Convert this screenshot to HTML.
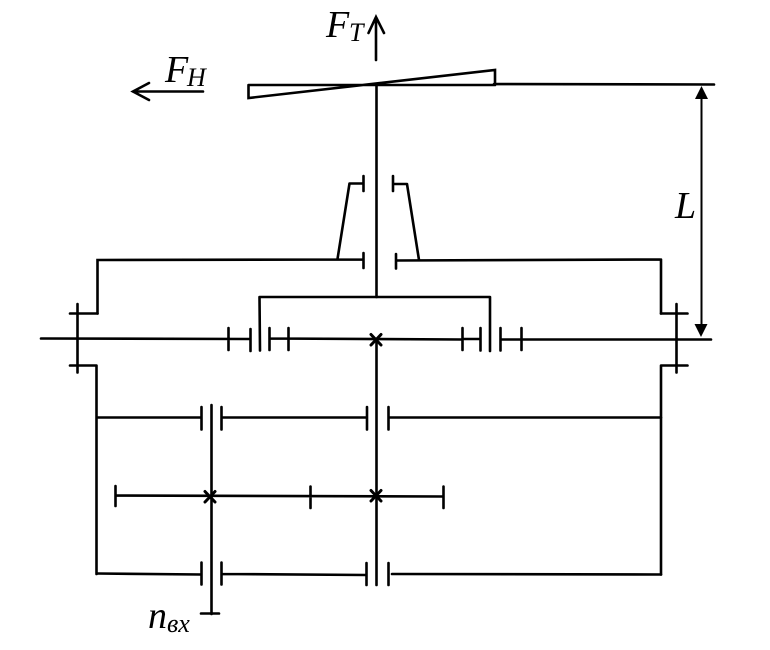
<!DOCTYPE html>
<html>
<head>
<meta charset="utf-8">
<style>
html,body{margin:0;padding:0;background:#fff;width:770px;height:650px;overflow:hidden}
svg{display:block}
text{font-family:"Liberation Serif","DejaVu Serif",serif;font-style:italic;fill:#000}
</style>
</head>
<body>
<svg width="770" height="650" viewBox="0 0 770 650" xmlns="http://www.w3.org/2000/svg">
<g fill="none" stroke="#000" stroke-width="2.6" stroke-linecap="round" stroke-linejoin="miter">
<!-- top blade -->
<path d="M248.500 85H494M248.500 85V98L495 70V85M494 84L714 84.500"/>
<!-- FT arrow -->
<path d="M376 60V17M368.500 33L376 17L384 33"/>
<!-- FH arrow -->
<path d="M203 91.500H133M149 83L133 91.500L149 100"/>
<!-- central shaft top -->
<path d="M376.500 85V297"/>
<!-- upper bearings -->
<path d="M363.500 176V191M349.500 183.500H363.500M349.500 183.500L337.500 259M393 176V191M393 184H407M407 184L419 260"/>
<!-- mid horizontal lines -->
<path d="M97.500 313.500V260L363 259.500M363.500 253V268M396 254V268.500M396 260.500L660 259.500M661 259.500V313.500"/>
<!-- carrier bridge -->
<path d="M259.500 297H490M259.500 297L260 350.500M490 297V351"/>
<!-- main horizontal shaft -->
<path d="M41 338.500L250 339M228.500 328V350M250.500 329V351M269.500 328V350M269.500 338.500L462 339.500M288.500 328V350M462.500 328V350M480.500 328V350.500M462.500 339H480.500M500.500 328V350.500M521.500 328V350M500.500 339.500L711 339.500"/>
<!-- left flange -->
<path d="M77.500 304V372.500M70 313.500H97.500M70 365.500H96.500M96.500 365.500V574"/>
<!-- right flange -->
<path d="M676.500 304V372.500M661 313.500H687.500M661 365.500H687.500M661 365.500V574.500"/>
<!-- upper gear row -->
<path d="M97 417.500H201M201.500 407V429.500M221.500 407V429.500M221.500 417.500H366.500M367 407V429.500M388.500 407V429.500M388.500 417.500H661"/>
<!-- vertical shafts -->
<path d="M211.500 405V614M201 613.500H219M376.500 339V585"/>
<!-- mid gear row -->
<path d="M115.500 486V506M115.500 495.500L443 496.500M310.500 486.500V508M443.500 486.500V508"/>
<!-- lower gear row -->
<path d="M97 573.500L201 574.500M201.500 562.500V584.500M221.500 562.500V584.500M221.500 574L366 575M366.500 563V585M388.500 563V585M392 574L661 574.500"/>
<path d="M205 491.500L215 502M215 491.500L205 502M371 490.500L381 501M381 490.500L371 501M371 334.500L381 345M381 334.500L371 345" stroke-width="3"/>
</g>
<!-- dimension L -->
<path d="M701.500 97V326" stroke="#000" stroke-width="2" fill="none"/>
<path d="M701.500 86L708 99H695ZM701 337L694.500 324H707.500Z" fill="#000"/>
<!-- labels -->
<text x="326" y="37" font-size="38">F</text>
<text x="349" y="41" font-size="26">T</text>
<text x="165" y="82" font-size="38">F</text>
<text x="187" y="86" font-size="26">H</text>
<text x="675" y="218" font-size="38">L</text>
<text x="148" y="628" font-size="38">n</text>
<text x="167" y="632" font-size="26">вх</text>
</svg>
</body>
</html>
